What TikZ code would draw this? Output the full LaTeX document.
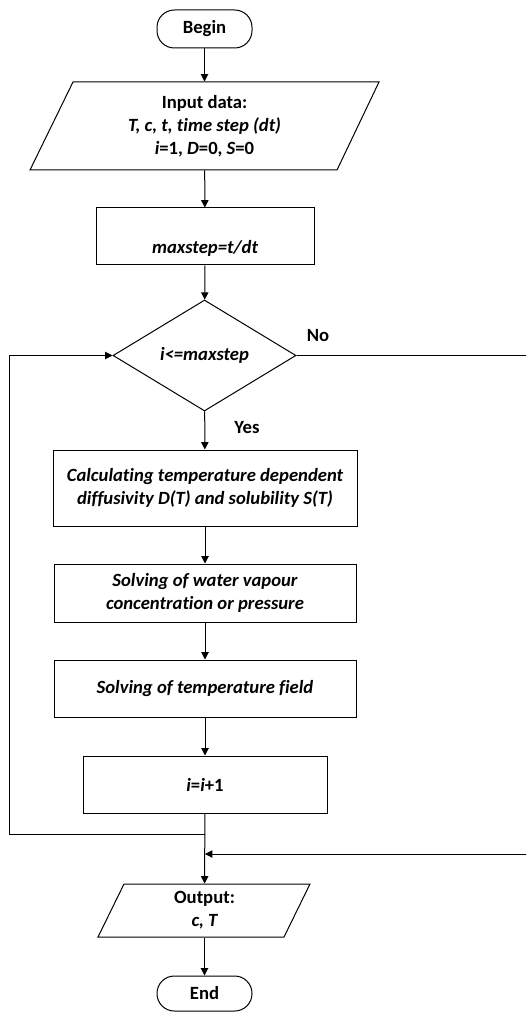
\documentclass[tikz,border=0pt]{standalone}
\usepackage{fontspec}
\setmainfont{Carlito}[RawFeature=-liga]
\usetikzlibrary{arrows.meta,shapes.geometric}
\begin{document}
\begin{tikzpicture}[x=0.75pt,y=-0.75pt,
  line width=0.75pt,
  every node/.style={font=\fontsize{14}{17.25}\selectfont\bfseries, align=center, inner sep=0pt},
  proc/.style={draw, rectangle},
  term/.style={draw, rectangle, rounded corners=13pt, minimum width=71.25pt},
  arr/.style={-{Triangle[length=5.5pt,width=5.5pt]}},
  ]
\useasboundingbox (0,0) rectangle (526,1012);
\clip (0,0) rectangle (526,1012);

% nodes
\node[term, minimum height=28.5pt] (begin) at (204.5,29) {Begin};
\node[minimum height=66pt] (in) at (204.5,126)
  {Input data:\\ {\itshape T, c, t, time step (dt)}\\ {\itshape i}=1, {\itshape D}=0, {\itshape S}=0};
\draw (73,82) -- (379,82) -- (337,170) -- (30,170) -- cycle;
\node[proc, minimum width=163.5pt, minimum height=42.75pt, text height=29pt, text depth=3.5pt] (ms) at (205,236.5) {\itshape maxstep=t/dt};
\node[draw, diamond, minimum width=137.25pt, minimum height=83.25pt] (dec) at (204.5,355.5) {\itshape i<=maxstep};
\node[proc, minimum width=228pt, minimum height=57pt] (calc) at (205,488)
  {\itshape Calculating temperature dependent\\ \itshape diffusivity D(T) and solubility S(T)};
\node[proc, minimum width=226.5pt, minimum height=43.5pt] (water) at (205,593)
  {\itshape Solving of water vapour\\ \itshape concentration or pressure};
\node[proc, minimum width=226.5pt, minimum height=42.75pt] (temp) at (205,688.5)
  {\itshape Solving of temperature field};
\node[proc, minimum width=183pt, minimum height=42.75pt] (inc) at (205,784.5)
  {{\itshape i}={\itshape i}+1};
\node[minimum height=39.75pt] (out) at (204.5,910.5) {Output:\\ {\itshape c, T}};
\draw (124,884) -- (310,884) -- (284,937) -- (98,937) -- cycle;
\node[term, minimum height=26.25pt] (end) at (204.5,993.5) {End};

\node (no) at (318,336) {No};
\node (yes) at (247,428) {Yes};

\coordinate (j) at (205,834);
\coordinate (lb) at (9,834);
\coordinate (rt) at (530,355.5);
\coordinate (m) at (205,854);

% connectors
\draw[arr] (begin) -- (in);
\draw[arr] (in) -- (ms);
\draw[arr] (ms) -- (dec);
\draw[arr] (dec) -- (calc);
\draw[arr] (calc) -- (water);
\draw[arr] (water) -- (temp);
\draw[arr] (temp) -- (inc);
\draw[arr] (inc) -- (out);
\draw[arr] (j) -- (lb) |- (dec.west);
\draw[arr] (dec.east) -- (rt) |- (m);
\draw[arr] (out) -- (end);
\end{tikzpicture}
\end{document}
